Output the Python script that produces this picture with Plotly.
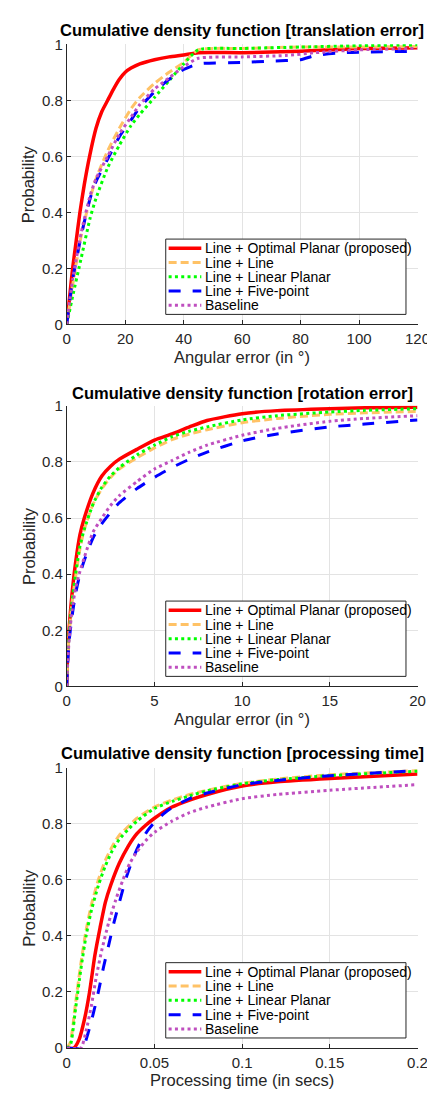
import plotly.graph_objects as go

# ---------------- data ----------------
series_names = ["Line + Optimal Planar (proposed)", "Line + Line", "Line + Linear Planar",
                "Line + Five-point", "Baseline"]

# Panel 1: translation error (deg)
t_red_x = [0, 1, 2, 3, 4.5, 6, 7.8, 10, 12, 14, 16, 18, 20, 22, 25, 30, 35, 40, 45, 60, 80, 90, 100, 120]
t_red_y = [0, 0.1, 0.2, 0.28, 0.4, 0.5, 0.6, 0.7, 0.76, 0.8, 0.84, 0.875, 0.9, 0.915, 0.93, 0.945, 0.955, 0.962, 0.97, 0.97, 0.975, 0.98, 0.985, 0.988]
t_org_x = [0, 2, 5, 8, 10, 14, 18, 22, 25, 30, 35, 40, 45, 60, 80, 100, 120]
t_org_y = [0, 0.14, 0.32, 0.45, 0.52, 0.62, 0.7, 0.77, 0.81, 0.86, 0.9, 0.935, 0.98, 0.985, 0.99, 0.99, 0.992]
t_grn_x = [0, 2, 5, 8, 10, 14, 18, 22, 25, 30, 35, 40, 45, 60, 80, 100, 120]
t_grn_y = [0, 0.1, 0.24, 0.38, 0.45, 0.56, 0.64, 0.71, 0.75, 0.81, 0.87, 0.93, 0.98, 0.985, 0.99, 0.995, 0.998]
t_blu_x = [0, 2, 5, 8, 10, 14, 18, 22, 25, 30, 35, 40, 45, 60, 70, 80, 85, 95, 120]
t_blu_y = [0, 0.16, 0.32, 0.45, 0.51, 0.59, 0.67, 0.73, 0.775, 0.83, 0.875, 0.91, 0.93, 0.935, 0.94, 0.945, 0.96, 0.97, 0.975]
t_pur_x = [0, 2, 5, 8, 10, 14, 18, 22, 25, 30, 35, 40, 45, 60, 75, 85, 100, 120]
t_pur_y = [0, 0.16, 0.33, 0.46, 0.52, 0.6, 0.68, 0.74, 0.785, 0.84, 0.88, 0.92, 0.95, 0.955, 0.96, 0.97, 0.98, 0.985]

# Panel 2: rotation error (deg)
r_x = [0, 0.05, 0.15, 0.3, 0.5, 0.75, 1, 1.5, 2, 2.5, 3, 4, 5, 6, 7, 8, 10, 12, 15, 17, 20]
r_red_y = [0, 0.12, 0.22, 0.33, 0.44, 0.54, 0.6, 0.69, 0.75, 0.785, 0.81, 0.845, 0.878, 0.9, 0.925, 0.948, 0.972, 0.983, 0.99, 0.993, 0.995]
r_org_y = [0, 0.1, 0.2, 0.3, 0.39, 0.49, 0.56, 0.65, 0.705, 0.745, 0.775, 0.815, 0.85, 0.88, 0.9, 0.915, 0.94, 0.955, 0.97, 0.975, 0.98]
r_grn_y = [0, 0.1, 0.2, 0.3, 0.4, 0.5, 0.56, 0.65, 0.71, 0.75, 0.78, 0.825, 0.86, 0.89, 0.91, 0.925, 0.95, 0.965, 0.978, 0.984, 0.99]
r_blu_y = [0, 0.08, 0.17, 0.25, 0.33, 0.4, 0.45, 0.53, 0.58, 0.62, 0.655, 0.705, 0.745, 0.78, 0.81, 0.835, 0.875, 0.9, 0.925, 0.935, 0.95]
r_pur_y = [0, 0.08, 0.18, 0.27, 0.35, 0.41, 0.46, 0.55, 0.6, 0.645, 0.68, 0.73, 0.775, 0.805, 0.835, 0.86, 0.895, 0.92, 0.945, 0.955, 0.965]

# Panel 3: processing time (s)
p_red_x = [0, 0.004, 0.007, 0.01, 0.013, 0.016, 0.019, 0.022, 0.025, 0.03, 0.035, 0.04, 0.045, 0.05, 0.06, 0.07, 0.08, 0.1, 0.12, 0.15, 0.2]
p_red_y = [0, 0, 0.03, 0.1, 0.2, 0.33, 0.43, 0.52, 0.58, 0.66, 0.72, 0.765, 0.795, 0.82, 0.86, 0.885, 0.905, 0.935, 0.95, 0.962, 0.978]
p_org_x = [0, 0.002, 0.005, 0.008, 0.011, 0.014, 0.018, 0.022, 0.026, 0.03, 0.035, 0.04, 0.05, 0.06, 0.07, 0.08, 0.1, 0.12, 0.15, 0.2]
p_org_y = [0, 0.02, 0.16, 0.3, 0.42, 0.51, 0.6, 0.67, 0.72, 0.76, 0.79, 0.82, 0.86, 0.885, 0.905, 0.92, 0.945, 0.96, 0.975, 0.99]
p_grn_x = [0, 0.002, 0.005, 0.008, 0.011, 0.014, 0.018, 0.022, 0.026, 0.03, 0.035, 0.04, 0.05, 0.06, 0.07, 0.08, 0.1, 0.12, 0.15, 0.2]
p_grn_y = [0, 0.01, 0.14, 0.28, 0.4, 0.49, 0.58, 0.65, 0.705, 0.745, 0.78, 0.81, 0.855, 0.88, 0.9, 0.918, 0.943, 0.958, 0.972, 0.988]
p_blu_x = [0, 0.009, 0.012, 0.015, 0.018, 0.021, 0.024, 0.027, 0.03, 0.034, 0.038, 0.042, 0.046, 0.05, 0.055, 0.06, 0.07, 0.08, 0.1, 0.12, 0.15, 0.2]
p_blu_y = [0, 0, 0.05, 0.12, 0.2, 0.29, 0.37, 0.45, 0.52, 0.61, 0.68, 0.735, 0.775, 0.805, 0.835, 0.858, 0.89, 0.91, 0.94, 0.955, 0.972, 0.99]
p_pur_x = [0, 0.008, 0.011, 0.014, 0.017, 0.02, 0.024, 0.028, 0.032, 0.036, 0.04, 0.045, 0.05, 0.06, 0.07, 0.08, 0.1, 0.12, 0.15, 0.2]
p_pur_y = [0, 0, 0.06, 0.15, 0.26, 0.35, 0.45, 0.53, 0.6, 0.66, 0.7, 0.74, 0.77, 0.81, 0.84, 0.86, 0.89, 0.905, 0.92, 0.94]

titles = ["Cumulative density function [translation error]",
          "Cumulative density function [rotation error]",
          "Cumulative density function [processing time]"]
x_titles = ["Angular error (in °)", "Angular error (in °)", "Processing time (in secs)"]
y_title = "Probability"
x_ranges = [[0, 120], [0, 20], [0, 0.2]]
x_tickvals = [[0, 20, 40, 60, 80, 100, 120], [0, 5, 10, 15, 20], [0, 0.05, 0.1, 0.15, 0.2]]
x_ticktext = [["0", "20", "40", "60", "80", "100", "120"], ["0", "5", "10", "15", "20"],
              ["0", "0.05", "0.1", "0.15", "0.2"]]
y_tickvals = [0, 0.2, 0.4, 0.6, 0.8, 1]
y_ticktext = ["0", "0.2", "0.4", "0.6", "0.8", "1"]

# ---------------- styles ----------------
colors = ["#FF0000", "#FFC266", "#00FF00", "#0000FF", "#BF4FBF"]
dashes = ["solid", "8px,4px", "3px,3.3px", "12px,12px", "3px,3.3px"]
widths = [3.5, 3, 3, 3, 3]
FONT = "Liberation Sans, Arial, Helvetica, sans-serif"
INK = "#262626"

panels = [
    [(t_red_x, t_red_y), (t_org_x, t_org_y), (t_grn_x, t_grn_y), (t_blu_x, t_blu_y), (t_pur_x, t_pur_y)],
    [(r_x, r_red_y), (r_x, r_org_y), (r_x, r_grn_y), (r_x, r_blu_y), (r_x, r_pur_y)],
    [(p_red_x, p_red_y), (p_org_x, p_org_y), (p_grn_x, p_grn_y), (p_blu_x, p_blu_y), (p_pur_x, p_pur_y)],
]

W, H = 435, 1093
# pixel geometry of each axes box (left, right, top, bottom)
boxes = [(57, 422, 27.7, 312.3), (57, 422, 395, 680), (57, 422, 762.7, 1047.3)]
title_y = [13, 381.5, 748]

def px(xp):
    return xp / W

def py(yp):
    return 1 - yp / H

fig = go.Figure()
layout = dict(width=W, height=H, margin=dict(l=0, r=0, t=0, b=0), showlegend=False,
              paper_bgcolor="white", plot_bgcolor="white",
              font=dict(family=FONT, color=INK, size=15), annotations=[], shapes=[])

for i, panel in enumerate(panels):
    sfx = "" if i == 0 else str(i + 1)
    for j, (xs, ys) in enumerate(panel):
        fig.add_trace(go.Scatter(
            x=xs, y=ys, mode="lines", name=series_names[j],
            line=dict(color=colors[j], width=widths[j], dash=dashes[j], shape="spline", smoothing=0.6),
            xaxis="x" + sfx, yaxis="y" + sfx, hoverinfo="skip"))
    l, r, t, b = boxes[i]
    layout["xaxis" + sfx] = dict(
        domain=[px(l), px(r)], range=x_ranges[i], anchor="y" + sfx,
        tickvals=x_tickvals[i], ticktext=x_ticktext[i],
        showgrid=True, gridcolor="#E3E3E3", gridwidth=1, zeroline=False,
        showline=True, linecolor=INK, linewidth=1, ticks="inside", ticklen=4, tickcolor=INK,
        tickfont=dict(size=15, color=INK), ticklabelstandoff=1, fixedrange=True)
    layout["yaxis" + sfx] = dict(
        domain=[py(b), py(t)], range=[0, 1], anchor="x" + sfx,
        tickvals=y_tickvals, ticktext=y_ticktext,
        showgrid=True, gridcolor="#E3E3E3", gridwidth=1, zeroline=False,
        showline=True, linecolor=INK, linewidth=1, ticks="inside", ticklen=4, tickcolor=INK,
        tickfont=dict(size=15, color=INK), fixedrange=True)
    # title
    layout["annotations"].append(dict(
        text="<b>" + titles[i] + "</b>", x=px((l + r) / 2), y=py(title_y[i]),
        xref="paper", yref="paper", xanchor="center", yanchor="middle", showarrow=False,
        font=dict(size=16.5, color="#000000", family=FONT)))
    # axis titles
    layout["annotations"].append(dict(
        text=x_titles[i], x=px((l + r) / 2), y=py(b + 33), xref="paper", yref="paper",
        xanchor="center", yanchor="middle", showarrow=False, font=dict(size=16.5, color=INK, family=FONT)))
    layout["annotations"].append(dict(
        text=y_title, x=px(17.5), y=py((t + b) / 2), xref="paper", yref="paper", textangle=-90,
        xanchor="center", yanchor="middle", showarrow=False, font=dict(size=16.5, color=INK, family=FONT)))
    # legend box (drawn manually for MATLAB-like compact spacing)
    lt = b - 86.7
    layout["shapes"].append(dict(type="rect", xref="paper", yref="paper",
                                 x0=px(160), x1=px(410), y0=py(lt), y1=py(lt + 76.5),
                                 line=dict(color=INK, width=1), fillcolor="white", layer="above"))
    for j in range(5):
        yc = lt + 9.3 + 14.5 * j
        layout["shapes"].append(dict(type="line", xref="paper", yref="paper",
                                     x0=px(163), x1=px(197), y0=py(yc), y1=py(yc), layer="above",
                                     line=dict(color=colors[j], width=widths[j], dash=dashes[j])))
        layout["annotations"].append(dict(
            text=series_names[j], x=px(198.5), y=py(yc), xref="paper", yref="paper",
            xanchor="left", yanchor="middle", showarrow=False,
            font=dict(size=14, color="#000000", family=FONT)))

fig.update_layout(**layout)
fig.write_html("out.html")
